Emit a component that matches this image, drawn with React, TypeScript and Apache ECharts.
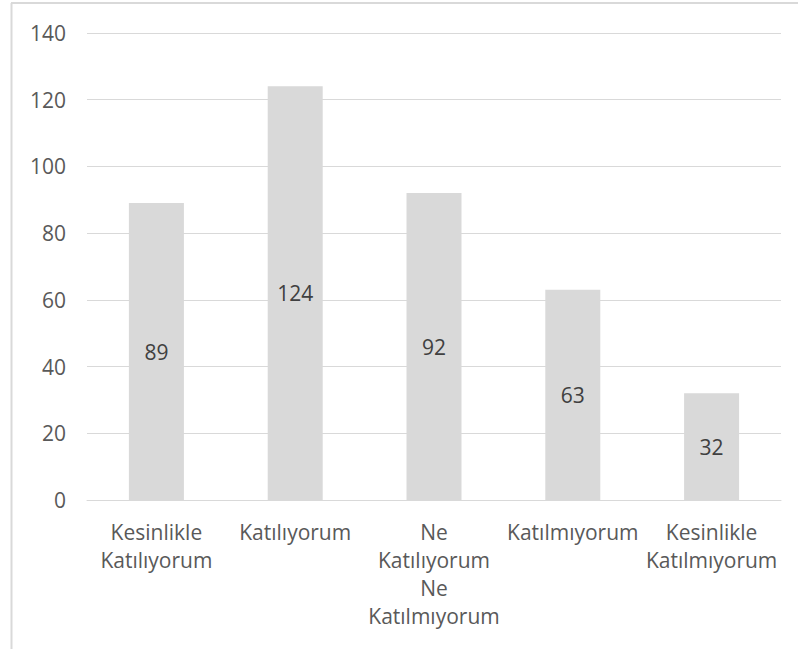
import React, { useEffect, useRef } from "react";
import * as echarts from "echarts";

const categories = [
  "Kesinlikle Katılıyorum",
  "Katılıyorum",
  "Ne Katılıyorum Ne Katılmıyorum",
  "Katılmıyorum",
  "Kesinlikle Katılmıyorum",
];
const values = [89, 124, 92, 63, 32];
const yTicks = { min: 0, max: 140, interval: 20 };

const FONT = "'Open Sans', 'Noto Sans', sans-serif";

export default function App() {
  const ref = useRef<HTMLDivElement>(null);
  useEffect(() => {
    if (!ref.current) return;
    const chart = echarts.init(ref.current, null, { renderer: "svg" });
    chart.setOption({
      animation: false,
      backgroundColor: "#ffffff",
      textStyle: { fontFamily: FONT },
      graphic: [
        {
          type: "line",
          shape: { x1: 11, y1: 3, x2: 798, y2: 3 },
          style: { stroke: "#d9d9d9", lineWidth: 2 },
          silent: true,
        },
        {
          type: "line",
          shape: { x1: 11.5, y1: 3, x2: 11.5, y2: 649 },
          style: { stroke: "#d9d9d9", lineWidth: 2 },
          silent: true,
        },
      ],
      grid: { left: 87, right: 17, top: 33, bottom: 149, containLabel: false },
      xAxis: {
        type: "category",
        data: categories,
        axisLine: { show: true, lineStyle: { color: "#d9d9d9", width: 1 } },
        axisTick: { show: false },
        axisLabel: {
          interval: 0,
          color: "#595959",
          fontSize: 21,
          fontFamily: FONT,
          lineHeight: 28,
          margin: 18,
          formatter: (v: string) => v.split(" ").join("\n"),
        },
      },
      yAxis: {
        type: "value",
        min: yTicks.min,
        max: yTicks.max,
        interval: yTicks.interval,
        axisLine: { show: false },
        axisTick: { show: false },
        splitLine: { lineStyle: { color: "#d9d9d9", width: 1 } },
        axisLabel: {
          color: "#595959",
          fontSize: 21,
          fontFamily: FONT,
          margin: 21,
        },
      },
      series: [
        {
          type: "bar",
          data: values,
          barWidth: 55,
          itemStyle: { color: "#d9d9d9" },
          label: {
            show: true,
            position: "inside",
            color: "#404040",
            fontSize: 21,
            fontFamily: FONT,
          },
        },
      ],
    });
    return () => chart.dispose();
  }, []);
  return (
    <div
      ref={ref}
      style={{ position: "fixed", left: 0, top: 0, width: 798, height: 649 }}
    />
  );
}
